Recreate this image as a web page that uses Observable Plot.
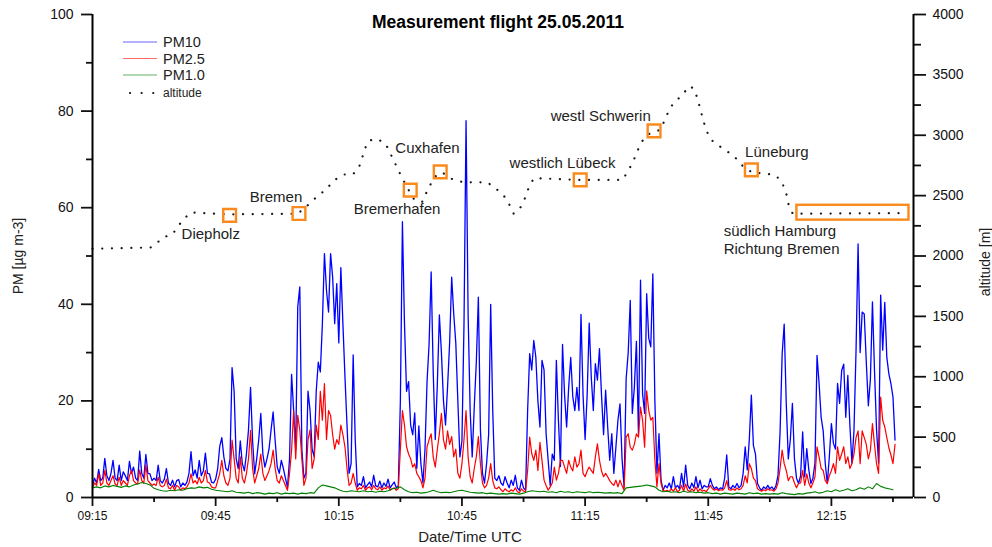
<!DOCTYPE html>
<html><head><meta charset="utf-8">
<script src="https://cdn.jsdelivr.net/npm/d3@7"></script>
<script src="https://cdn.jsdelivr.net/npm/@observablehq/plot@0.6"></script>
<style>
html,body{margin:0;padding:0;background:#fff;}
#wrap{position:relative;width:992px;height:547px;font-family:"Liberation Sans",Arial,sans-serif;}
#legend{position:absolute;left:0;top:0;pointer-events:none;}
</style></head><body><div id="wrap"></div>
<script>
// ---------- data ----------
const chartTitle = "Measurement flight 25.05.2011";
const xTickLabels = ["09:15","09:45","10:15","10:45","11:15","11:45","12:15"];
const xMinorLabels = ["09:30","10:00","10:30","11:00","11:30","12:00","12:30"];
const xDomain = ["09:15","12:35"];
const pmTicks = [0,20,40,60,80,100];
const pmMinorTicks = [10,30,50,70,90];
const altTicks = [0,500,1000,1500,2000,2500,3000,3500,4000];
const altMinorTicks = [250,750,1250,1750,2250,2750,3250,3750];
const altPerPm = 40; // right axis 0-4000 m against left 0-100

const seriesStart = "09:15:00";
const pmStepSec = 30;
const pm1StepSec = 60;

const pm10 = [
2.5,4.0,3.0,5.8,3.5,4.0,8.1,4.5,3.5,5.0,7.7,4.0,3.5,6.7,3.5,5.3,4.5,3.5,7.5,5.0,
6.3,4.0,3.5,9.6,5.0,4.0,8.9,5.0,4.9,3.5,4.0,3.5,6.7,3.5,3.0,3.8,6.0,3.0,2.5,3.6,
2.2,3.5,3.7,2.2,3.0,2.5,3.2,5.0,9.5,4.5,5.7,4.0,7.7,4.5,5.5,9.2,5.0,4.9,3.2,3.0,
3.8,6.0,10.6,12.4,8.4,6.0,5.5,8.0,26.9,22.0,8.0,6.0,11.7,7.0,5.5,9.0,14.0,22.8,11.7,4.9,
8.0,12.0,17.4,9.0,6.3,8.0,10.0,14.0,17.7,11.7,6.3,5.0,7.7,6.0,4.0,2.1,8.0,25.5,18.0,10.0,
39.5,43.6,10.0,4.0,5.0,22.0,18.0,10.0,8.4,22.0,28.0,26.0,36.0,50.5,42.9,38.4,50.5,45.6,36.0,44.3,
32.0,47.6,36.0,25.0,15.0,5.0,7.0,29.5,12.0,2.2,2.9,2.5,4.3,2.0,2.6,3.2,2.2,4.6,2.4,2.2,
3.4,2.0,3.0,2.3,3.8,2.0,2.6,3.2,2.0,2.4,20.0,57.1,36.0,22.0,24.0,15.0,13.0,17.5,6.0,14.8,
7.0,3.0,10.0,24.0,31.9,46.7,26.0,12.0,23.4,37.8,30.0,20.0,15.0,23.0,32.0,45.6,38.0,32.0,20.0,8.4,
11.7,36.0,78.0,38.0,18.0,8.4,18.8,28.0,41.5,14.0,5.0,3.0,7.0,13.0,40.0,18.0,4.0,3.5,4.5,3.0,
2.5,4.3,3.0,2.0,3.6,2.5,4.6,2.0,1.5,3.6,2.0,1.5,18.0,29.8,26.4,32.5,29.0,20.0,14.6,28.4,
26.4,13.2,7.7,2.5,9.0,7.7,28.4,16.0,6.4,31.7,21.2,14.6,22.8,29.0,20.9,18.0,22.8,18.0,37.9,21.2,
12.0,21.2,36.1,25.0,18.0,27.7,24.3,30.8,21.2,13.0,22.2,14.6,7.7,13.2,5.0,10.4,16.0,19.4,8.0,2.2,
24.6,30.0,40.8,17.4,22.8,32.3,13.2,45.0,21.5,17.4,42.2,33.0,31.2,46.3,20.0,5.0,13.2,3.6,1.5,2.5,
2.0,3.0,1.8,4.3,2.0,2.5,1.8,5.0,2.2,6.7,2.5,1.8,3.0,2.0,4.3,2.0,3.6,1.8,2.5,2.2,
2.2,3.9,2.5,1.8,2.2,1.6,2.0,1.8,4.0,8.8,2.2,1.8,2.5,2.0,2.9,2.0,2.5,5.0,10.5,5.7,
12.0,21.2,10.8,9.0,2.9,2.0,1.5,2.2,1.8,2.5,1.8,2.2,1.6,2.5,4.6,13.6,29.6,35.9,19.5,8.0,
12.0,19.5,8.0,4.0,2.9,4.5,13.6,4.3,10.1,5.7,2.9,4.0,7.1,29.4,23.6,16.6,13.8,7.1,2.9,8.5,
15.3,11.2,10.0,23.6,19.5,26.3,27.6,16.6,25.3,15.0,7.1,13.8,30.4,52.5,30.0,38.4,38.0,28.0,19.0,24.5,
40.5,26.3,14.0,7.1,41.9,30.5,40.4,29.0,25.6,23.6,20.8,11.9
];

const pm25 = [
2.0,3.0,2.5,4.9,2.5,3.0,5.6,3.0,2.5,3.5,4.5,2.8,2.5,4.2,2.5,3.5,3.0,2.5,4.5,5.6,
3.5,3.0,2.8,5.7,3.5,3.0,6.7,3.5,3.0,2.5,2.8,2.5,4.2,2.5,2.2,2.5,3.8,2.0,1.8,2.5,
1.5,2.5,2.2,1.5,2.0,1.8,2.2,3.0,4.9,3.0,3.5,2.8,4.2,3.0,3.5,5.6,3.2,3.0,2.2,2.0,
2.0,3.5,5.0,7.7,4.5,3.0,2.5,4.0,11.9,8.0,4.0,3.0,8.4,4.0,3.0,5.0,8.0,13.9,6.0,3.0,
4.5,6.0,9.0,5.0,3.5,4.5,5.5,7.0,9.8,6.0,3.5,3.0,4.5,3.5,2.5,1.5,5.0,9.8,17.9,8.0,
17.0,14.0,8.0,2.5,4.0,12.0,14.0,6.0,8.0,15.0,12.0,22.0,16.0,23.6,12.0,18.0,17.0,13.0,10.0,12.0,
11.0,15.0,13.0,10.5,6.0,2.5,3.0,5.0,3.0,1.5,2.0,1.8,2.5,1.5,2.0,2.2,1.6,2.5,1.8,1.6,
2.2,1.5,2.0,1.8,2.4,1.5,1.8,2.0,1.5,1.8,10.0,18.0,15.0,10.5,9.0,8.0,6.3,7.0,5.0,4.3,
3.5,2.0,4.0,10.5,12.0,13.2,8.4,6.3,10.0,13.2,17.4,12.0,10.0,13.8,11.0,12.6,8.4,10.0,5.0,4.0,
7.0,12.0,18.0,8.4,4.3,3.0,6.0,8.4,12.6,7.0,3.0,2.0,2.5,4.0,7.0,3.5,2.0,1.8,2.2,1.6,
1.2,1.8,1.4,1.2,1.6,1.3,2.0,1.2,1.0,1.8,1.3,1.2,5.6,12.5,9.1,7.7,9.8,5.6,11.4,7.7,
3.6,2.5,1.5,2.2,3.0,6.3,3.6,5.0,7.7,7.7,6.3,5.0,7.7,6.3,5.5,8.4,6.3,7.0,9.8,5.0,
4.3,5.5,6.3,5.6,5.0,8.4,11.1,7.7,5.5,4.3,5.0,4.3,3.5,2.9,2.5,3.6,2.2,3.6,2.5,1.5,
12.5,13.2,10.4,9.8,11.0,13.2,12.5,18.7,16.0,10.4,22.1,18.0,16.0,16.6,7.7,2.2,7.0,2.9,1.5,1.3,
1.5,1.2,1.8,1.3,2.0,1.2,1.5,2.5,1.3,2.8,1.5,1.2,1.8,1.3,2.2,1.2,1.8,1.3,1.5,1.2,
1.8,2.5,1.8,1.5,1.8,1.4,1.6,1.5,2.0,3.5,1.6,1.5,1.8,1.5,2.0,1.6,1.8,2.5,4.5,3.0,
7.0,6.0,4.0,3.5,1.8,1.5,1.3,1.6,1.4,1.8,1.5,1.6,1.3,1.8,3.0,6.0,9.8,7.0,5.6,3.5,
4.3,4.3,3.0,2.0,2.9,3.0,5.6,2.5,4.9,3.0,2.0,3.0,4.3,10.5,8.4,6.0,5.6,3.5,2.9,4.5,
5.6,7.0,5.0,10.5,7.7,9.0,10.5,7.0,8.4,6.0,7.0,9.0,12.4,13.8,7.0,13.8,12.4,11.0,8.0,9.8,
15.3,11.0,7.0,5.0,20.8,16.0,14.6,12.4,10.3,8.8,7.0,11.0
];

const pm1 = [
2.0,2.2,2.0,2.4,2.2,2.5,2.3,2.1,2.4,2.2,2.6,2.8,3.1,2.9,2.6,1.9,1.6,1.4,1.3,1.5,
1.4,1.6,1.5,1.8,2.0,1.9,2.2,2.0,2.1,1.7,1.5,1.4,1.3,1.2,1.4,1.1,1.0,0.9,1.1,0.8,
1.0,0.9,0.7,0.9,0.8,1.0,0.7,0.9,0.8,0.9,0.7,0.9,0.8,1.0,0.9,2.0,2.6,2.4,2.2,2.0,
1.6,1.3,1.2,1.4,1.3,1.2,1.4,1.2,1.3,1.1,1.3,1.2,1.4,1.8,1.9,2.2,1.6,1.2,1.0,1.1,
0.9,1.0,1.2,1.5,1.2,1.0,1.1,1.0,1.2,1.4,1.5,1.3,1.1,1.0,0.9,1.0,0.8,0.9,0.8,0.7,
0.8,0.7,0.9,0.8,0.7,0.9,1.2,1.4,1.3,1.2,1.3,1.1,1.2,1.0,1.3,1.1,1.2,1.0,1.2,1.1,
1.0,1.2,1.0,1.1,1.0,0.9,1.0,0.9,1.0,0.8,2.0,2.1,2.2,2.3,2.4,2.6,2.4,2.2,1.5,1.2,
1.3,1.1,1.2,1.0,1.3,1.1,1.2,1.0,1.1,0.9,1.0,0.8,0.9,0.7,0.9,0.8,0.7,0.9,0.8,0.7,
1.0,0.8,0.9,0.7,0.8,0.7,0.8,0.7,1.0,0.8,0.7,0.6,0.8,0.7,0.9,1.0,1.2,0.9,1.1,1.4,
1.2,1.6,1.3,1.5,1.8,1.4,1.6,2.0,1.7,2.2,1.8,2.9,2.3,2.0,1.8,1.6
];

const altTimes = ["09:15:00","09:29:06","09:30:24","09:32:18","09:34:30","09:35:42","09:37:12","09:38:54","09:48:06","10:05:00","10:07:06","10:09:18","10:11:48","10:14:00","10:16:12","10:18:24","10:19:48","10:20:30","10:21:18","10:22:18","10:24:24","10:26:24","10:27:24","10:28:36","10:29:48","10:31:00","10:32:12","10:33:30","10:35:24","10:36:24","10:37:36","10:39:06","10:40:30","10:42:42","10:45:24","10:51:12","10:53:12","10:55:06","10:56:24","10:57:36","10:59:18","11:00:18","11:01:12","11:02:30","11:13:42","11:24:06","11:25:36","11:26:48","11:27:48","11:29:00","11:30:30","11:31:42","11:33:24","11:34:24","11:35:24","11:36:36","11:38:48","11:40:12","11:41:24","11:42:24","11:43:06","11:44:24","11:45:36","11:47:30","11:49:42","11:51:42","11:53:24","11:55:48","11:58:30","12:01:12","12:02:36","12:03:24","12:04:06","12:04:36","12:05:36","12:31:54"];
const altMeters = [2060,2070,2100,2155,2180,2240,2305,2360,2345,2350,2410,2480,2550,2630,2675,2675,2725,2790,2885,2955,2970,2930,2860,2775,2690,2610,2535,2460,2450,2530,2610,2685,2685,2635,2610,2610,2560,2505,2435,2350,2405,2475,2560,2645,2630,2630,2710,2790,2875,2955,3010,3020,3050,3125,3205,3270,3335,3405,3390,3305,3210,3050,2965,2915,2865,2810,2745,2690,2685,2670,2630,2575,2505,2420,2350,2355];

// marked positions (orange squares)
const siteTimes = ["09:48:24","10:05:18","10:32:24","10:39:42","11:13:48","11:31:48","11:55:30"];
const siteAlts  = [2337,2352,2545,2697,2630,3036,2713];
// marked segment (orange box)
const boxTimes = ["12:06:36","12:33:54"];
const boxAlts  = [2297,2420];

// place labels
const placeNames   = ["Diepholz","Bremen","Bremerhafen","Cuxhafen","westlich Lübeck","westl Schwerin","Lüneburg","südlich Hamburg\nRichtung Bremen"];
const placeTimes   = ["09:36:42","09:59:42","10:29:12","10:36:36","11:09:30","11:18:48","12:01:42","11:48:45"];
const placeAlts    = [2188,2486,2387,2896,2767,3156,2858,2139];
const placeAnchors = ["start","middle","middle","middle","middle","middle","middle","start"];

const seriesNames  = ["PM10","PM2.5","PM1.0","altitude"];
const seriesColors = ["#0000ff","#ff0000","#008000","#1a1a1a"];
const yLabelLeft  = "PM [µg m-3]";
const yLabelRight = "altitude [m]";
const xLabel = "Date/Time UTC";

// ---------- helpers ----------
const startMin = (() => { const p = xDomain[0].split(":").map(Number); return p[0]*60 + p[1]; })();
const toMin = s => { const p = s.split(":").map(Number); return p[0]*60 + p[1] + (p[2]||0)/60 - startMin; };
const s0 = toMin(seriesStart);
const series = (arr, step) => arr.map((v, i) => ({t: s0 + i*step/60, v}));
const rows10 = series(pm10, pmStepSec);
const rows25 = series(pm25, pmStepSec);
const rows1  = series(pm1, pm1StepSec);
const altRows = altTimes.map((t, i) => ({t: toMin(t), v: altMeters[i] / altPerPm}));
const sites = siteTimes.map((t, i) => ({t: toMin(t), v: siteAlts[i] / altPerPm}));
const box = [{x1: toMin(boxTimes[0]), x2: toMin(boxTimes[1]), y1: boxAlts[0]/altPerPm, y2: boxAlts[1]/altPerPm}];
const places = placeNames.map((n, i) => ({n, t: toMin(placeTimes[i]), v: placeAlts[i]/altPerPm, a: placeAnchors[i]}));
const tickMap = new Map(xTickLabels.map(l => [toMin(l), l]));
const xMax = toMin(xDomain[1]);
const FONT = "Liberation Sans, Arial, Helvetica, sans-serif";

const chart = Plot.plot({
  width: 992, height: 547,
  marginLeft: 92, marginRight: 79, marginTop: 14, marginBottom: 50,
  style: {fontFamily: FONT, background: "white", color: "#111", overflow: "visible"},
  x: {domain: [0, xMax], label: null},
  y: {domain: [0, 100], label: null},
  marks: [
    // data
    Plot.line(rows10, {x: "t", y: "v", stroke: seriesColors[0], strokeWidth: 1.3}),
    Plot.line(rows25, {x: "t", y: "v", stroke: seriesColors[1], strokeWidth: 1.2}),
    Plot.line(rows1,  {x: "t", y: "v", stroke: seriesColors[2], strokeWidth: 1.1}),
    Plot.line(altRows, {x: "t", y: "v", stroke: seriesColors[3], strokeWidth: 2.2, strokeDasharray: "0.1 9.6", strokeLinecap: "round"}),
    // annotations
    Plot.dot(sites, {x: "t", y: "v", symbol: "square", r: 7.2, stroke: "#fb8a1e", strokeWidth: 2.4, fill: "none"}),
    Plot.rect(box, {x1: "x1", x2: "x2", y1: "y1", y2: "y2", stroke: "#fb8a1e", strokeWidth: 2.4, fill: "none"}),
    Plot.text(places.filter(d => d.a === "start"), {x: "t", y: "v", text: "n", textAnchor: "start", fontSize: 15, fill: "#222", lineHeight: 1.17}),
    Plot.text(places.filter(d => d.a === "middle"), {x: "t", y: "v", text: "n", textAnchor: "middle", fontSize: 15, fill: "#222"}),
    // axes
    Plot.axisX(xTickLabels.map(toMin), {anchor: "bottom", tickSize: 9, tickPadding: 5, tickFormat: d => tickMap.get(d), fontSize: 12, strokeWidth: 1.8, label: null}),
    Plot.axisX(xMinorLabels.map(toMin), {anchor: "bottom", tickSize: 5, tickFormat: () => "", strokeWidth: 1.8, label: null}),
    Plot.axisY(pmTicks, {anchor: "left", tickSize: 11, tickPadding: 8, fontSize: 14, strokeWidth: 1.8, label: null}),
    Plot.axisY(pmMinorTicks, {anchor: "left", tickSize: 6, tickFormat: () => "", strokeWidth: 1.8, label: null}),
    Plot.axisY(altTicks.map(a => a/altPerPm), {anchor: "right", tickSize: 12, tickPadding: 7, tickFormat: d => String(Math.round(d*altPerPm)), fontSize: 14, strokeWidth: 1.8, label: null}),
    Plot.axisY(altMinorTicks.map(a => a/altPerPm), {anchor: "right", tickSize: 7, tickFormat: () => "", strokeWidth: 1.8, label: null}),
    Plot.ruleX([0, xMax], {stroke: "#000", strokeWidth: 2}),
    Plot.ruleY([0], {stroke: "#000", strokeWidth: 2}),
    // titles
    Plot.text([chartTitle], {frameAnchor: "top", dx: -5, dy: 8, lineAnchor: "middle", textAnchor: "middle", text: d => d, fontWeight: "bold", fontSize: 17.5, fill: "#000"}),
    Plot.text([xLabel], {frameAnchor: "bottom", dx: -33, dy: 40, lineAnchor: "middle", textAnchor: "middle", text: d => d, fontSize: 15, fill: "#222"}),
    Plot.text([yLabelLeft], {frameAnchor: "left", dx: -74, lineAnchor: "middle", textAnchor: "middle", text: d => d, rotate: -90, fontSize: 14, fill: "#222"}),
    Plot.text([yLabelRight], {frameAnchor: "right", dx: 72, dy: 6, lineAnchor: "middle", textAnchor: "middle", text: d => d, rotate: -90, fontSize: 14, fill: "#222"})
  ]
});
const wrap = document.getElementById("wrap");
wrap.appendChild(chart);

// legend overlay
const leg = d3.select(wrap).append("svg").attr("id", "legend").attr("width", 260).attr("height", 110)
  .style("font-family", FONT);
const legY = [42, 58.5, 75, 93];
seriesNames.forEach((name, i) => {
  const g = leg.append("g");
  if (i < 3) {
    g.append("line").attr("x1", 123).attr("x2", 157).attr("y1", legY[i]).attr("y2", legY[i])
      .attr("stroke", seriesColors[i]).attr("stroke-width", 1.2).attr("stroke-opacity", 0.6);
  } else {
    g.append("line").attr("x1", 130).attr("x2", 157).attr("y1", legY[i]).attr("y2", legY[i])
      .attr("stroke", seriesColors[i]).attr("stroke-width", 2.2).attr("stroke-linecap", "round").attr("stroke-dasharray", "0.1 11.5");
  }
  g.append("text").attr("x", 163).attr("y", legY[i]).attr("dy", "0.35em")
    .attr("font-size", i < 3 ? 14.5 : 12).attr("fill", "#222").text(name);
});
</script></body></html>
